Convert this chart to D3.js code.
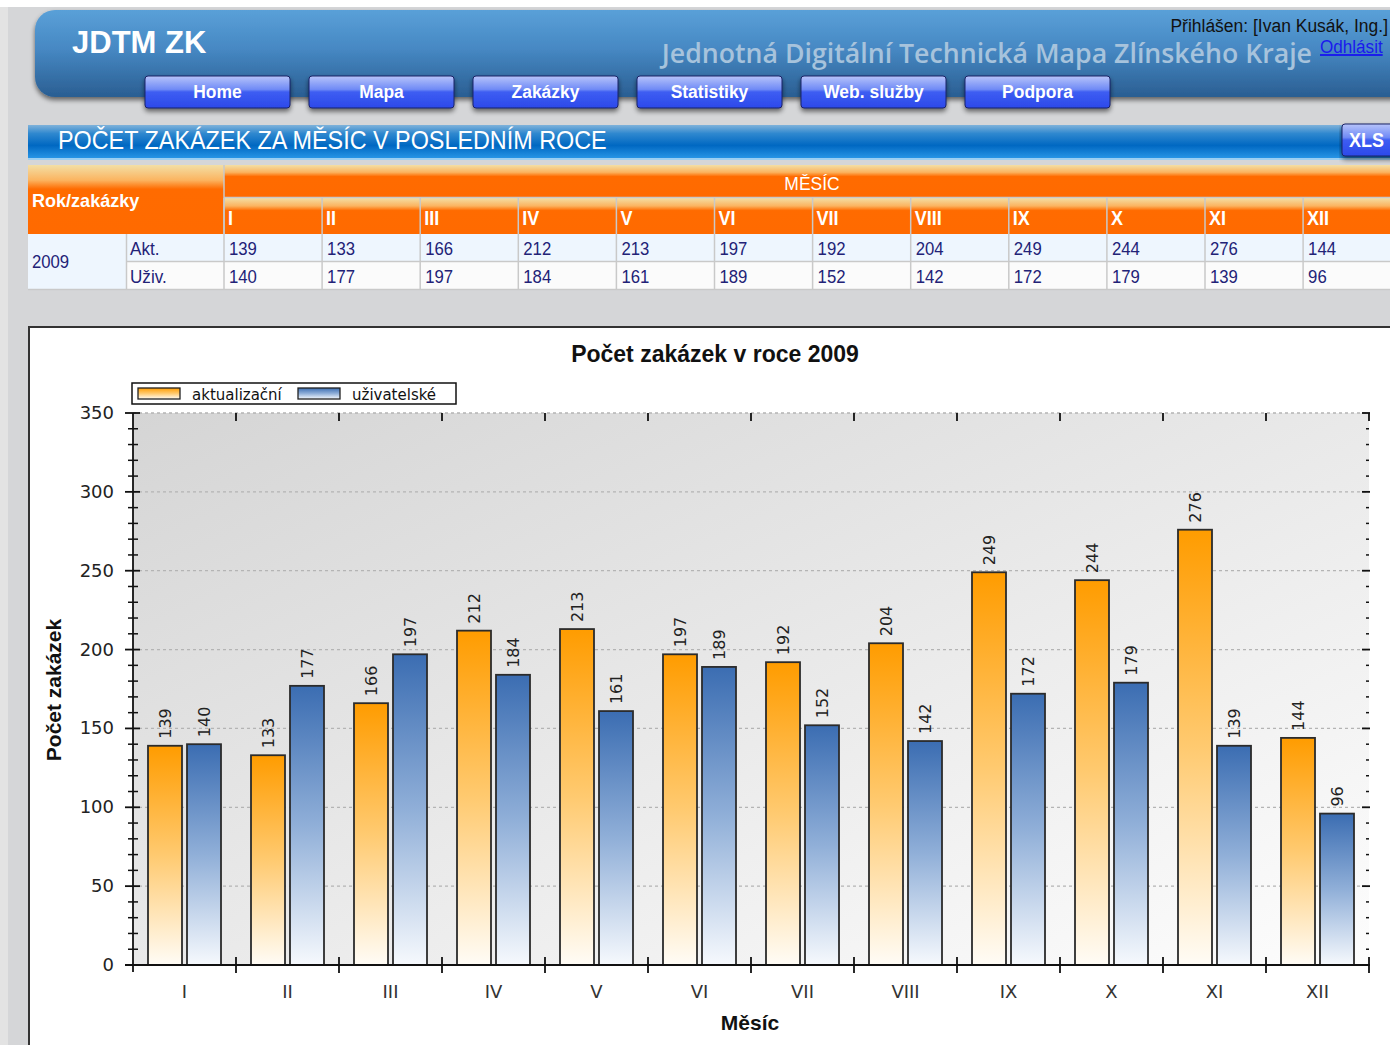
<!DOCTYPE html>
<html><head><meta charset="utf-8">
<script src="https://cdn.jsdelivr.net/npm/d3@7"></script>
<style>html,body{margin:0;padding:0;background:#fff;overflow:hidden}</style>
</head><body>
<script>
// ---------- DATA ----------
const months = ["I","II","III","IV","V","VI","VII","VIII","IX","X","XI","XII"];
const aktualizacni = [139,133,166,212,213,197,192,204,249,244,276,144];
const uzivatelske  = [140,177,197,184,161,189,152,142,172,179,139,96];
const seriesNames = ["aktualizační","uživatelské"];
const rowLabels = ["Akt.","Uživ."];
const yearLabel = "2009";
const yTicks = [0,50,100,150,200,250,300,350];
const navItems = ["Home","Mapa","Zakázky","Statistiky","Web. služby","Podpora"];
const chartTitle = "Počet zakázek v roce 2009";
const xTitle = "Měsíc";
const yTitle = "Počet zakázek";

// ---------- SETUP ----------
const W = 1390, H = 1045;
const NARROW = "'Liberation Sans Narrow','Arial Narrow','Liberation Sans',Arial,sans-serif";
const SANS = "'Liberation Sans',Arial,sans-serif";
const DV = "'DejaVu Sans',Verdana,sans-serif";
const svg = d3.select("body").append("svg").attr("width",W).attr("height",H)
  .style("display","block");
const defs = svg.append("defs");
function lg(id, stops, x2=0, y2=1){
  const g = defs.append("linearGradient").attr("id",id)
    .attr("x1",0).attr("y1",0).attr("x2",x2).attr("y2",y2);
  stops.forEach(([o,c])=>g.append("stop").attr("offset",o).attr("stop-color",c));
}
lg("hdr",[[0,"#5aa0d8"],[0.45,"#4688c3"],[1,"#2a5e92"]]);
lg("nav",[[0,"#b7c4fa"],[0.42,"#6f8af6"],[0.5,"#3d5df2"],[1,"#2c49ea"]]);
lg("bar",[[0,"#7fb2da"],[0.25,"#2f88cf"],[0.6,"#0068c2"],[1,"#2b98e8"]]);
lg("org",[[0,"#f3dfa6"],[0.22,"#fbb460"],[0.35,"#ff6b00"],[1,"#ff6a00"]]);
lg("plotbg",[[0,"#d5d5d5"],[1,"#fdfdfd"]],1,1);
lg("gO",[[0,"#ff9c00"],[0.5,"#ffca70"],[1,"#fffcf6"]]);
lg("gB",[[0,"#3b6db2"],[0.5,"#90afd8"],[1,"#f6f9fd"]]);
const f = defs.append("filter").attr("id","sh").attr("x","-5%").attr("y","-20%").attr("width","110%").attr("height","150%");
f.append("feGaussianBlur").attr("in","SourceAlpha").attr("stdDeviation",2.5);
f.append("feOffset").attr("dx",0).attr("dy",3).attr("result","b");
f.append("feComponentTransfer").append("feFuncA").attr("type","linear").attr("slope",0.55);
const fm = f.append("feMerge"); fm.append("feMergeNode"); fm.append("feMergeNode").attr("in","SourceGraphic");

// condensed text helper
function nt(parent, x, y, txt, sx, size, fill, weight, anchor){
  return parent.append("text").attr("transform",`translate(${x},${y}) scale(${sx},1)`)
    .attr("text-anchor",anchor||"start").text(txt)
    .attr("font-family",NARROW).attr("font-size",size).attr("fill",fill)
    .attr("font-weight",weight||"normal");
}

// page bg
svg.append("rect").attr("width",W).attr("height",H).attr("fill","#ffffff");
svg.append("rect").attr("x",0).attr("y",7).attr("width",W).attr("height",H).attr("fill","#e3e3e3");
svg.append("rect").attr("x",8).attr("y",7).attr("width",W).attr("height",H).attr("fill","#d5d6d8");

// ---------- HEADER ----------
svg.append("rect").attr("x",35).attr("y",10).attr("width",1420).attr("height",87).attr("rx",20)
  .attr("fill","url(#hdr)").attr("filter","url(#sh)");
svg.append("text").attr("x",72).attr("y",53).text("JDTM ZK")
  .attr("font-family",SANS).attr("font-weight","bold").attr("font-size",31).attr("fill","#fff");
svg.append("text").attr("x",1312).attr("y",63).attr("text-anchor","end")
  .text("Jednotná Digitální Technická Mapa Zlínského Kraje")
  .attr("font-family","'Open Sans',sans-serif").attr("font-weight",600).attr("font-size",26.7).attr("fill","#a7c3dc");
nt(svg,1388,32,"Přihlášen: [Ivan Kusák, Ing.]",0.92,19,"#111","normal","end");
nt(svg,1320,53,"Odhlásit",0.9,19,"#1a1aee").attr("text-decoration","underline");

const navX = d3.scaleBand().domain(navItems).range([145,145+164*navItems.length-19]).paddingInner(19/164).paddingOuter(0);
const nav = svg.append("g").selectAll("g").data(navItems).join("g")
  .attr("transform",d=>`translate(${navX(d)},76)`);
nav.append("rect").attr("width",navX.bandwidth()).attr("height",32).attr("rx",3)
  .attr("fill","url(#nav)").attr("stroke","#1b2466").attr("stroke-width",1).attr("filter","url(#sh)");
nav.each(function(d){ nt(d3.select(this),navX.bandwidth()/2,22,d,0.92,19,"#fff","bold","middle"); });

// ---------- TITLE BAR ----------
svg.append("rect").attr("x",28).attr("y",125).attr("width",1370).attr("height",34).attr("fill","url(#bar)");
svg.append("rect").attr("x",28).attr("y",158).attr("width",1370).attr("height",2).attr("fill","#9ccff2");
nt(svg,58,149,"POČET ZAKÁZEK ZA MĚSÍC V POSLEDNÍM ROCE",0.935,25,"#fff");
const xls = svg.append("g").attr("transform","translate(1342,124)");
xls.append("rect").attr("width",56).attr("height",32).attr("rx",3).attr("fill","url(#nav)")
  .attr("stroke","#1b2466").attr("filter","url(#sh)");
nt(xls,7,23,"XLS",0.9,20,"#fff","bold");

// ---------- TABLE ----------
const tX = d3.scaleBand().domain(months).range([224,224+98.1*12]);
const tab = svg.append("g");
const gridC = "#c9c9c9";
tab.append("rect").attr("x",28).attr("y",165).attr("width",196).attr("height",69).attr("fill","url(#org)");
tab.append("rect").attr("x",224).attr("y",165).attr("width",1180).attr("height",33).attr("fill","url(#org)");
nt(tab,32,207,"Rok/zakázky",0.95,19,"#fff","bold");
nt(tab,812,190,"MĚSÍC",0.92,19,"#fff","normal","middle");
const mc = tab.append("g").selectAll("g").data(months).join("g").attr("transform",d=>`translate(${tX(d)},198)`);
mc.append("rect").attr("width",tX.bandwidth()+1).attr("height",36).attr("fill","url(#org)");
mc.append("line").attr("x1",0).attr("x2",0).attr("y1",0).attr("y2",36).attr("stroke",gridC).attr("stroke-width",1.5);
mc.each(function(d){ nt(d3.select(this),4,27,d,0.9,20,"#fff","bold"); });
tab.append("line").attr("x1",224).attr("x2",1400).attr("y1",197.5).attr("y2",197.5).attr("stroke",gridC).attr("stroke-width",1.5);
tab.append("line").attr("x1",224).attr("x2",224).attr("y1",165).attr("y2",290).attr("stroke",gridC).attr("stroke-width",1.5);
const rowsData = [aktualizacni, uzivatelske];
const rowY = [234,262];
tab.append("rect").attr("x",28).attr("y",234).attr("width",1380).attr("height",28).attr("fill","#eef6fe");
tab.append("rect").attr("x",126).attr("y",262).attr("width",1280).attr("height",28).attr("fill","#fbfbfb");
tab.append("rect").attr("x",28).attr("y",262).attr("width",98).attr("height",28).attr("fill","#eef6fe");
nt(tab,32,268,yearLabel,0.88,19,"#222277");
rowsData.forEach((vals,ri)=>{
  const y0 = rowY[ri];
  nt(tab,130,y0+21,rowLabels[ri],0.9,19,"#222277");
  vals.forEach((v,i)=>nt(tab,tX(months[i])+5,y0+21,v,0.88,19,"#222277"));
});
[261,289].forEach(y=>tab.append("line").attr("x1",126).attr("x2",1400).attr("y1",y+0.5).attr("y2",y+0.5).attr("stroke",gridC).attr("stroke-width",1.5));
tab.append("line").attr("x1",28).attr("x2",126).attr("y1",289.5).attr("y2",289.5).attr("stroke",gridC).attr("stroke-width",1.5);
tab.append("line").attr("x1",126.5).attr("x2",126.5).attr("y1",234).attr("y2",290).attr("stroke",gridC).attr("stroke-width",1.5);
months.forEach(m=>tab.append("line").attr("x1",tX(m)).attr("x2",tX(m)).attr("y1",234).attr("y2",290).attr("stroke",gridC).attr("stroke-width",1.5));

// ---------- CHART ----------
svg.append("rect").attr("x",29).attr("y",327).attr("width",1400).attr("height",760)
  .attr("fill","#fff").attr("stroke","#333").attr("stroke-width",2);
const chart = svg.append("g");
chart.append("text").attr("x",715).attr("y",362).attr("text-anchor","middle").text(chartTitle)
  .attr("font-family",SANS).attr("font-weight","bold").attr("font-size",23).attr("fill","#111");

const L = 133, R = 1369, T = 413, B = 965;
const x0 = d3.scaleBand().domain(months).range([L,R]);
const x1 = d3.scaleBand().domain([0,1]).range([15,88]).paddingInner(5/39);
const y = d3.scaleLinear().domain([0,350]).range([B,T]);

chart.append("rect").attr("x",L).attr("y",T).attr("width",R-L).attr("height",B-T).attr("fill","url(#plotbg)");
chart.append("g").selectAll("line").data(yTicks.filter(d=>d>0)).join("line")
  .attr("x1",L).attr("x2",R).attr("y1",d=>y(d)).attr("y2",d=>y(d))
  .attr("stroke","#b4b4b4").attr("stroke-width",1.3).attr("stroke-dasharray","3,3");

const mg = chart.append("g").selectAll("g").data(months).join("g").attr("transform",d=>`translate(${x0(d)},0)`);
const barData = (m,i)=>[aktualizacni[i],uzivatelske[i]].map((v,k)=>({v,k}));
mg.selectAll("rect").data(barData).join("rect")
  .attr("x",d=>x1(d.k)).attr("width",x1.bandwidth())
  .attr("y",d=>y(d.v)).attr("height",d=>B-y(d.v))
  .attr("fill",d=>d.k===0?"url(#gO)":"url(#gB)").attr("stroke","#2b2b2b").attr("stroke-width",1.8);
mg.selectAll("text").data(barData).join("text")
  .attr("transform",d=>`translate(${x1(d.k)+x1.bandwidth()/2+6},${y(d.v)-7}) rotate(-90)`)
  .text(d=>d.v).attr("font-family",DV).attr("font-size",16).attr("fill","#222");

const ax = chart.append("g").attr("stroke","#111");
ax.append("line").attr("x1",L).attr("x2",L).attr("y1",T).attr("y2",B+7).attr("stroke-width",1.8);
ax.append("line").attr("x1",L-8).attr("x2",R).attr("y1",B).attr("y2",B).attr("stroke-width",1.8);
const minor = d3.range(0,351,10).filter(d=>d%50!==0);
ax.append("g").selectAll("line").data(minor).join("line")
  .attr("x1",L-5).attr("x2",L+5).attr("y1",d=>y(d)).attr("y2",d=>y(d)).attr("stroke-width",1.5);
ax.append("g").selectAll("line").data(yTicks).join("line")
  .attr("x1",L-8).attr("x2",L+7).attr("y1",d=>y(d)).attr("y2",d=>y(d)).attr("stroke-width",1.8);
ax.append("g").selectAll("line").data(minor).join("line")
  .attr("x1",R-3).attr("x2",R).attr("y1",d=>y(d)).attr("y2",d=>y(d)).attr("stroke-width",1.5);
ax.append("g").selectAll("line").data(yTicks).join("line")
  .attr("x1",R-7).attr("x2",R+1).attr("y1",d=>y(d)).attr("y2",d=>y(d)).attr("stroke-width",1.8);
ax.append("line").attr("x1",R).attr("x2",R).attr("y1",T).attr("y2",T+8).attr("stroke-width",1.8);
ax.append("line").attr("x1",R).attr("x2",R).attr("y1",B-8).attr("y2",B+8).attr("stroke-width",1.8);
const bounds = months.slice(1).map(m=>x0(m));
ax.append("g").selectAll("line").data(bounds).join("line")
  .attr("x1",d=>d).attr("x2",d=>d).attr("y1",B-8).attr("y2",B+8).attr("stroke-width",1.8);
ax.append("g").selectAll("line").data(bounds).join("line")
  .attr("x1",d=>d).attr("x2",d=>d).attr("y1",T).attr("y2",T+8).attr("stroke-width",1.8);

chart.append("g").selectAll("text").data(yTicks).join("text")
  .attr("x",114).attr("y",d=>y(d)+6).attr("text-anchor","end").text(d=>d)
  .attr("font-family",DV).attr("font-size",18).attr("fill","#222");
chart.append("g").selectAll("text").data(months).join("text")
  .attr("x",d=>x0(d)+x0.bandwidth()/2).attr("y",998).attr("text-anchor","middle").text(d=>d)
  .attr("font-family",DV).attr("font-size",18).attr("fill","#333");
chart.append("text").attr("x",750).attr("y",1030).attr("text-anchor","middle").text(xTitle)
  .attr("font-family",SANS).attr("font-weight","bold").attr("font-size",21).attr("fill","#111");
chart.append("text").attr("transform","translate(61,690) rotate(-90)").attr("text-anchor","middle").text(yTitle)
  .attr("font-family",SANS).attr("font-weight","bold").attr("font-size",21).attr("fill","#111");

const leg = chart.append("g").attr("transform","translate(132,383)");
leg.append("rect").attr("width",324).attr("height",21).attr("fill","#fff").attr("stroke","#111").attr("stroke-width",1.5);
const legX = d3.scaleBand().domain(seriesNames).range([6,326]);
const li = leg.selectAll("g").data(seriesNames).join("g").attr("transform",d=>`translate(${legX(d)},0)`);
li.append("rect").attr("y",5).attr("width",42).attr("height",11)
  .attr("fill",(d,i)=>i===0?"url(#gO)":"url(#gB)").attr("stroke","#222").attr("stroke-width",1.3);
li.append("text").attr("x",54).attr("y",16.5).text(d=>d).attr("font-family",DV).attr("font-size",15).attr("fill","#111");
</script>
</body></html>
